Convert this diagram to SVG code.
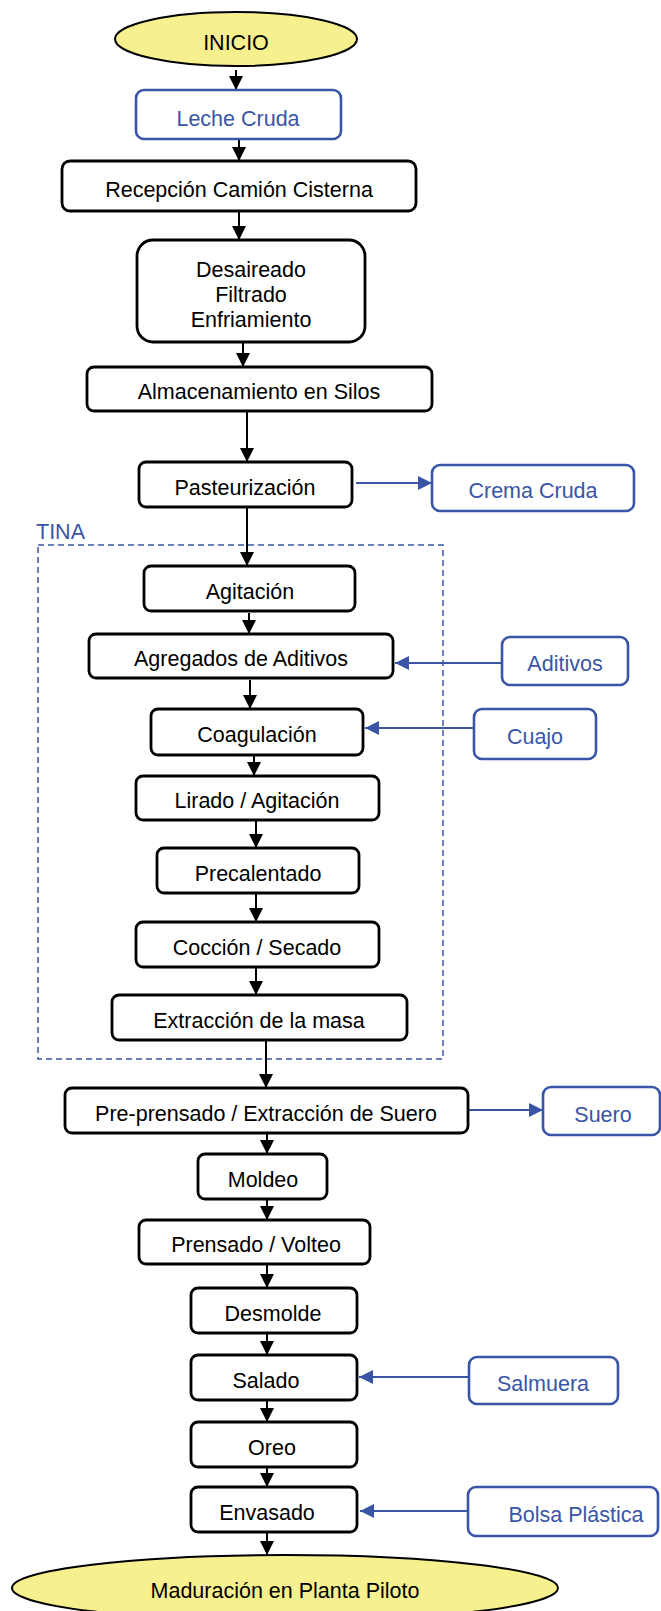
<svg xmlns="http://www.w3.org/2000/svg" width="661" height="1611" viewBox="0 0 661 1611">
<style>
.box{fill:#fff;stroke:#000;stroke-width:2.8}
.inp{fill:#fff;stroke:#3a55a6;stroke-width:2.6}
.term{fill:#f7f08f;stroke:#000;stroke-width:2}
.t{font-family:"Liberation Sans",Arial,sans-serif;font-size:21.5px;fill:#000;text-anchor:middle}
.tb{font-family:"Liberation Sans",Arial,sans-serif;font-size:21.5px;fill:#3a55a6;text-anchor:middle}
.ck{stroke:#000;stroke-width:2;fill:none;marker-end:url(#ak)}
.cb{stroke:#3a55a6;stroke-width:2;fill:none;marker-end:url(#ab)}
</style>
<defs>
<marker id="ak" markerUnits="userSpaceOnUse" markerWidth="15" markerHeight="15" refX="14" refY="7" orient="auto"><path d="M0,0 L14,7 L0,14 z" fill="#000"/></marker>
<marker id="ab" markerUnits="userSpaceOnUse" markerWidth="15" markerHeight="15" refX="14" refY="7" orient="auto"><path d="M0,0 L14,7 L0,14 z" fill="#3a55a6"/></marker>
</defs>
<rect width="661" height="1611" fill="#fff"/>

<g id="tina">
<rect x="38" y="545" width="405" height="514" fill="none" stroke="#3a55a6" stroke-width="1.5" stroke-dasharray="6,4"/>
<text x="36" y="539" class="tb" style="text-anchor:start">TINA</text>
</g>

<g id="connectors">
<line x1="236" y1="70" x2="236" y2="90" class="ck"/>
<line x1="239" y1="139" x2="239" y2="161" class="ck"/>
<line x1="239" y1="211" x2="239" y2="240" class="ck"/>
<line x1="243" y1="342" x2="243" y2="367" class="ck"/>
<line x1="247" y1="411" x2="247" y2="462" class="ck"/>
<line x1="356" y1="483" x2="432" y2="483" class="cb"/>
<line x1="247" y1="507" x2="247" y2="566" class="ck"/>
<line x1="249" y1="613" x2="249" y2="634" class="ck"/>
<line x1="502" y1="663" x2="395" y2="663" class="cb"/>
<line x1="250" y1="680" x2="250" y2="709" class="ck"/>
<line x1="474" y1="728" x2="365" y2="728" class="cb"/>
<line x1="254" y1="755" x2="254" y2="776" class="ck"/>
<line x1="256" y1="820" x2="256" y2="848" class="ck"/>
<line x1="256" y1="893" x2="256" y2="922" class="ck"/>
<line x1="256" y1="967" x2="256" y2="995" class="ck"/>
<line x1="266" y1="1040" x2="266" y2="1088" class="ck"/>
<line x1="468" y1="1110" x2="543" y2="1110" class="cb"/>
<line x1="267" y1="1133" x2="267" y2="1154" class="ck"/>
<line x1="267" y1="1199" x2="267" y2="1220" class="ck"/>
<line x1="267" y1="1264" x2="267" y2="1288" class="ck"/>
<line x1="267" y1="1333" x2="267" y2="1355" class="ck"/>
<line x1="469" y1="1377" x2="359" y2="1377" class="cb"/>
<line x1="267" y1="1400" x2="267" y2="1422" class="ck"/>
<line x1="267" y1="1467" x2="267" y2="1487" class="ck"/>
<line x1="468" y1="1511" x2="360" y2="1511" class="cb"/>
<line x1="267" y1="1532" x2="267" y2="1555" class="ck"/>
</g>

<g id="inicio"><ellipse cx="236" cy="39" rx="121" ry="27" class="term"/><text x="236" y="50" class="t">INICIO</text></g>
<g id="leche"><rect x="136" y="90" width="205" height="49" rx="8" class="inp"/><text x="238" y="126" class="tb">Leche Cruda</text></g>
<g id="recepcion"><rect x="62" y="161" width="354" height="50" rx="8" class="box"/><text x="239" y="197" class="t">Recepción Camión Cisterna</text></g>
<g id="desaireado"><rect x="137" y="240" width="228" height="102" rx="16" class="box"/>
<text x="251" y="277" class="t">Desaireado</text><text x="251" y="302" class="t">Filtrado</text><text x="251" y="327" class="t">Enfriamiento</text></g>
<g id="almacenamiento"><rect x="87" y="367" width="345" height="44" rx="7" class="box"/><text x="259" y="399" class="t">Almacenamiento en Silos</text></g>
<g id="pasteurizacion"><rect x="139" y="462" width="213" height="45" rx="7" class="box"/><text x="245" y="495" class="t">Pasteurización</text></g>
<g id="crema"><rect x="432" y="465" width="202" height="46" rx="8" class="inp"/><text x="533" y="498" class="tb">Crema Cruda</text></g>
<g id="agitacion"><rect x="144" y="566" width="211" height="45" rx="7" class="box"/><text x="250" y="599" class="t">Agitación</text></g>
<g id="agregados"><rect x="89" y="634" width="304" height="44" rx="7" class="box"/><text x="241" y="666" class="t">Agregados de Aditivos</text></g>
<g id="aditivos"><rect x="502" y="637" width="126" height="48" rx="8" class="inp"/><text x="565" y="671" class="tb">Aditivos</text></g>
<g id="coagulacion"><rect x="151" y="709" width="212" height="46" rx="7" class="box"/><text x="257" y="742" class="t">Coagulación</text></g>
<g id="cuajo"><rect x="474" y="709" width="122" height="50" rx="8" class="inp"/><text x="535" y="744" class="tb">Cuajo</text></g>
<g id="lirado"><rect x="136" y="776" width="243" height="44" rx="7" class="box"/><text x="257" y="808" class="t">Lirado / Agitación</text></g>
<g id="precalentado"><rect x="157" y="848" width="202" height="45" rx="7" class="box"/><text x="258" y="881" class="t">Precalentado</text></g>
<g id="coccion"><rect x="136" y="922" width="243" height="45" rx="7" class="box"/><text x="257" y="955" class="t">Cocción / Secado</text></g>
<g id="extraccion"><rect x="112" y="995" width="295" height="45" rx="7" class="box"/><text x="259" y="1028" class="t">Extracción de la masa</text></g>
<g id="preprensado"><rect x="65" y="1088" width="403" height="45" rx="7" class="box"/><text x="266" y="1121" class="t">Pre-prensado / Extracción de Suero</text></g>
<g id="suero"><rect x="543" y="1087" width="117" height="48" rx="8" class="inp"/><text x="603" y="1122" class="tb">Suero</text></g>
<g id="moldeo"><rect x="198" y="1154" width="129" height="45" rx="7" class="box"/><text x="263" y="1187" class="t">Moldeo</text></g>
<g id="prensado"><rect x="139" y="1220" width="231" height="44" rx="7" class="box"/><text x="256" y="1252" class="t">Prensado / Volteo</text></g>
<g id="desmolde"><rect x="191" y="1288" width="166" height="45" rx="7" class="box"/><text x="273" y="1321" class="t">Desmolde</text></g>
<g id="salado"><rect x="191" y="1355" width="166" height="45" rx="7" class="box"/><text x="266" y="1388" class="t">Salado</text></g>
<g id="salmuera"><rect x="469" y="1357" width="149" height="47" rx="8" class="inp"/><text x="543" y="1391" class="tb">Salmuera</text></g>
<g id="oreo"><rect x="191" y="1422" width="166" height="45" rx="7" class="box"/><text x="272" y="1455" class="t">Oreo</text></g>
<g id="envasado"><rect x="191" y="1487" width="166" height="45" rx="7" class="box"/><text x="267" y="1520" class="t">Envasado</text></g>
<g id="bolsa"><rect x="468" y="1487" width="190" height="49" rx="8" class="inp"/><text x="576" y="1522" class="tb">Bolsa Plástica</text></g>
<g id="maduracion"><ellipse cx="285" cy="1588" rx="273" ry="33" class="term"/><text x="285" y="1598" class="t">Maduración en Planta Piloto</text></g>
</svg>
